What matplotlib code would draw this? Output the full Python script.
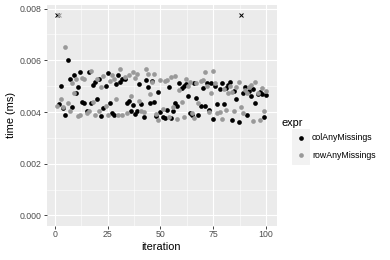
import numpy as np
import matplotlib
matplotlib.use('Agg')
import matplotlib.pyplot as plt
from matplotlib.patches import Rectangle

# ── data ──────────────────────────────────────────────────────────────────
iteration = np.arange(1, 101)

col_time = [
    0.00775, 0.00430, 0.00502, 0.00414, 0.00387, 0.00600, 0.00526, 0.00420, 0.00542, 0.00475,
    0.00498, 0.00556, 0.00439, 0.00434, 0.00405, 0.00556, 0.00436, 0.00503, 0.00517, 0.00450,
    0.00526, 0.00385, 0.00414, 0.00502, 0.00550, 0.00436, 0.00395, 0.00388, 0.00508, 0.00543,
    0.00517, 0.00528, 0.00528, 0.00436, 0.00444, 0.00405, 0.00427, 0.00392, 0.00405, 0.00510,
    0.00431, 0.00381, 0.00524, 0.00498, 0.00436, 0.00521, 0.00439, 0.00385, 0.00479, 0.00400,
    0.00380, 0.00376, 0.00408, 0.00498, 0.00376, 0.00405, 0.00434, 0.00424, 0.00511, 0.00492,
    0.00500, 0.00507, 0.00460, 0.00397, 0.00388, 0.00511, 0.00454, 0.00387, 0.00424, 0.00494,
    0.00424, 0.00511, 0.00408, 0.00511, 0.00374, 0.00500, 0.00431, 0.00490, 0.00513, 0.00430,
    0.00494, 0.00505, 0.00516, 0.00370, 0.00482, 0.00451, 0.00361, 0.00775, 0.00475, 0.00498,
    0.00388, 0.00480, 0.00462, 0.00490, 0.00434, 0.00470, 0.00478, 0.00470, 0.00382, 0.00466,
]
row_time = [
    0.00425, 0.00775, 0.00451, 0.00418, 0.00650, 0.00436, 0.00405, 0.00513, 0.00472, 0.00526,
    0.00385, 0.00390, 0.00530, 0.00526, 0.00395, 0.00405, 0.00558, 0.00440, 0.00390, 0.00526,
    0.00405, 0.00498, 0.00540, 0.00423, 0.00387, 0.00520, 0.00545, 0.00528, 0.00449, 0.00388,
    0.00566, 0.00388, 0.00535, 0.00395, 0.00543, 0.00462, 0.00553, 0.00530, 0.00546, 0.00443,
    0.00405, 0.00401, 0.00565, 0.00546, 0.00470, 0.00515, 0.00546, 0.00392, 0.00369, 0.00524,
    0.00410, 0.00520, 0.00524, 0.00380, 0.00536, 0.00418, 0.00539, 0.00372, 0.00485, 0.00439,
    0.00380, 0.00529, 0.00500, 0.00515, 0.00395, 0.00376, 0.00511, 0.00436, 0.00520, 0.00524,
    0.00553, 0.00502, 0.00400, 0.00475, 0.00560, 0.00511, 0.00395, 0.00399, 0.00372, 0.00490,
    0.00408, 0.00475, 0.00500, 0.00478, 0.00405, 0.00495, 0.00517, 0.00420, 0.00395, 0.00485,
    0.00475, 0.00498, 0.00504, 0.00366, 0.00515, 0.00472, 0.00369, 0.00492, 0.00405, 0.00482,
]
# iterations whose time lies above the plotted range (drawn as x at the cap)
col_outliers = [1, 88]
row_outliers = [2]

series_names = ["colAnyMissings", "rowAnyMissings"]
series_colors = ["black", "#999999"]

x_ticks = [0, 25, 50, 75, 100]
y_ticks = [0.000, 0.002, 0.004, 0.006, 0.008]

# ── figure ────────────────────────────────────────────────────────────────
W, H = 390, 260
plt.rcParams['font.family'] = ['Liberation Sans', 'DejaVu Sans']
fig = plt.figure(figsize=(W / 72, H / 72), dpi=72)
ax = fig.add_axes([46.5 / W, 1 - 225.5 / H, (276.5 - 46.5) / W, (225.5 - 5) / H])
ax.set_facecolor('#EBEBEB')
for s in ax.spines.values():
    s.set_visible(False)
ax.set_axisbelow(True)

MS = 4.7
for times, outl, color in zip([col_time, row_time], [col_outliers, row_outliers], series_colors):
    t = np.asarray(times)
    is_out = np.isin(iteration, outl)
    ax.plot(iteration[~is_out], t[~is_out], 'o', ms=MS, mew=0, color=color, zorder=3)
    ax.plot(iteration[is_out], t[is_out], 'x', ms=MS, mew=1.0, color=color, zorder=3)

ymax = max(max(col_time), max(row_time))
ax.set_xlim(-3.95, 104.95)
ax.set_ylim(-0.05 * ymax, ymax * 1.05)

ax.set_xticks(x_ticks)
ax.set_xticks([12.5, 37.5, 62.5, 87.5], minor=True)
ax.set_yticks(y_ticks)
ax.set_yticks([0.001, 0.003, 0.005, 0.007], minor=True)
ax.set_yticklabels([f"{v:.3f}" for v in y_ticks])
ax.grid(which='major', color='white', lw=1.1)
ax.grid(which='minor', color='white', lw=0.55)
ax.tick_params(which='major', length=2.75, width=0.9, color='#333333',
               labelsize=8.8, labelcolor='#4D4D4D', pad=2.2)
ax.tick_params(which='minor', length=0)
ax.set_xlabel("iteration", fontsize=11, labelpad=3)
ax.set_ylabel("time (ms)", fontsize=11, labelpad=4)

# ── legend (ggplot style) ────────────────────────────────────────────────
def px(x, y):
    return x / W, 1 - y / H

fig.text(*px(282, 123), "expr", fontsize=11, va='center', ha='left')
for k, (name, color) in enumerate(zip(series_names, series_colors)):
    yc = 138 + 17.3 * k
    fig.patches.append(Rectangle(px(292, yc + 8.65), 17.3 / W, 17.3 / H,
                                 transform=fig.transFigure, color='#F2F2F2', zorder=0))
    fig.lines.append(plt.Line2D([px(300.6, yc)[0]], [px(300.6, yc)[1]], marker='o', ms=MS,
                                mew=0, color=color, transform=fig.transFigure))
    fig.text(*px(312, yc), name, fontsize=8.8, va='center', ha='left')

fig.savefig("out.png", dpi=72)
